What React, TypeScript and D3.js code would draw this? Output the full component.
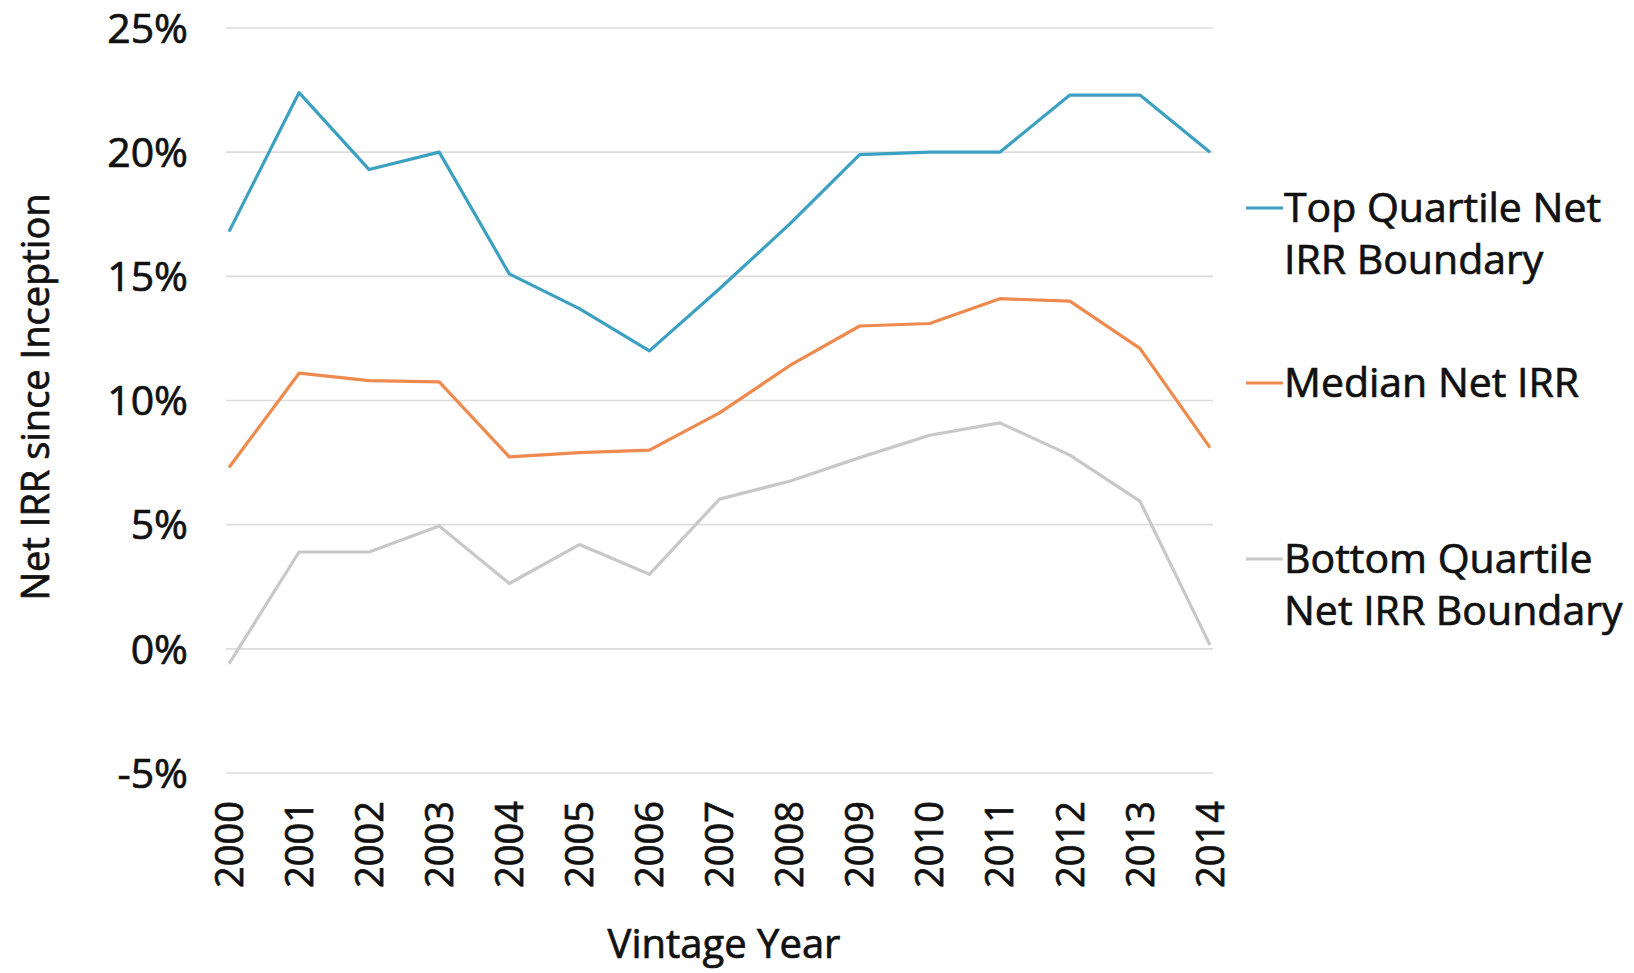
import React from "react";
import * as d3 from "d3";

// vintage years and the three IRR series (percent)
const years = [2000, 2001, 2002, 2003, 2004, 2005, 2006, 2007, 2008, 2009, 2010, 2011, 2012, 2013, 2014];
const topQuartile = [16.8, 22.4, 19.3, 20.0, 15.1, 13.7, 12.0, 14.5, 17.1, 19.9, 20.0, 20.0, 22.3, 22.3, 20.0];
const median = [7.3, 11.1, 10.8, 10.75, 7.73, 7.9, 8.0, 9.5, 11.4, 13.0, 13.1, 14.1, 14.0, 12.1, 8.1];
const bottomQuartile = [-0.6, 3.9, 3.9, 4.95, 2.63, 4.2, 3.0, 6.03, 6.75, 7.7, 8.6, 9.1, 7.8, 5.95, 0.15];
const yTicks = [-5, 0, 5, 10, 15, 20, 25];

const seriesNames = [
  ["Top Quartile Net", "IRR Boundary"],
  ["Median Net IRR"],
  ["Bottom Quartile", "Net IRR Boundary"],
];
const seriesColors = ["#3ca0c2", "#ef8a4e", "#c8c8c8"];

const W = 1634;
const H = 973;
const FONT = "'Open Sans', Lato, sans-serif";
const INK = "#111";

// slight outline to get the heavier look of the original type
const txt = { fill: INK, stroke: INK, strokeWidth: 0.7 };

export default function App() {
  const x = d3.scalePoint<number>().domain(years).range([229, 1210]);
  const y = d3.scaleLinear().domain([-5, 25]).range([773, 28]);

  const lineGen = d3
    .line<number>()
    .x((d, i) => x(years[i]) as number)
    .y((d) => y(d));

  const allSeries = [topQuartile, median, bottomQuartile];
  // legend rows: y of first line
  const legendY = [208, 383, 559];

  return (
    <svg
      width={W}
      height={H}
      style={{ position: "absolute", left: 0, top: 0, background: "#fff" }}
      fontFamily={FONT}
    >
      {/* gridlines + y ticks */}
      {yTicks.map((t) => (
        <g key={t}>
          <line x1={226} x2={1213} y1={y(t)} y2={y(t)} stroke="#dcdcdc" strokeWidth={1.6} />
          <text x={188} y={y(t)} dy="0.36em" textAnchor="end" fontSize={41} {...txt}>
            {t}%
          </text>
        </g>
      ))}

      {/* x tick labels, rotated */}
      {years.map((yr) => (
        <text
          key={yr}
          transform={`translate(${x(yr)},801) rotate(-90)`}
          textAnchor="end"
          dy="0.36em"
          fontSize={38}
          {...txt}
        >
          {yr}
        </text>
      ))}

      {/* series */}
      {allSeries.map((s, i) => (
        <path
          key={i}
          d={lineGen(s) as string}
          fill="none"
          stroke={seriesColors[i]}
          strokeWidth={3.2}
          strokeLinejoin="round"
        />
      ))}

      {/* axis titles */}
      <text
        transform="translate(36,397) rotate(-90)"
        textAnchor="middle"
        dy="0.35em"
        fontSize={38}
        {...txt}
      >
        Net IRR since Inception
      </text>
      <text x={724} y={958} textAnchor="middle" fontSize={40} {...txt}>
        Vintage Year
      </text>

      {/* legend */}
      {seriesNames.map((lines, i) => (
        <g key={i}>
          <line x1={1246} x2={1283} y1={legendY[i]} y2={legendY[i]} stroke={seriesColors[i]} strokeWidth={3.2} />
          {lines.map((ln, j) => (
            <text key={j} x={1284} y={legendY[i] + j * 52} dy="0.35em" fontSize={41} {...txt}>
              {ln}
            </text>
          ))}
        </g>
      ))}
    </svg>
  );
}
